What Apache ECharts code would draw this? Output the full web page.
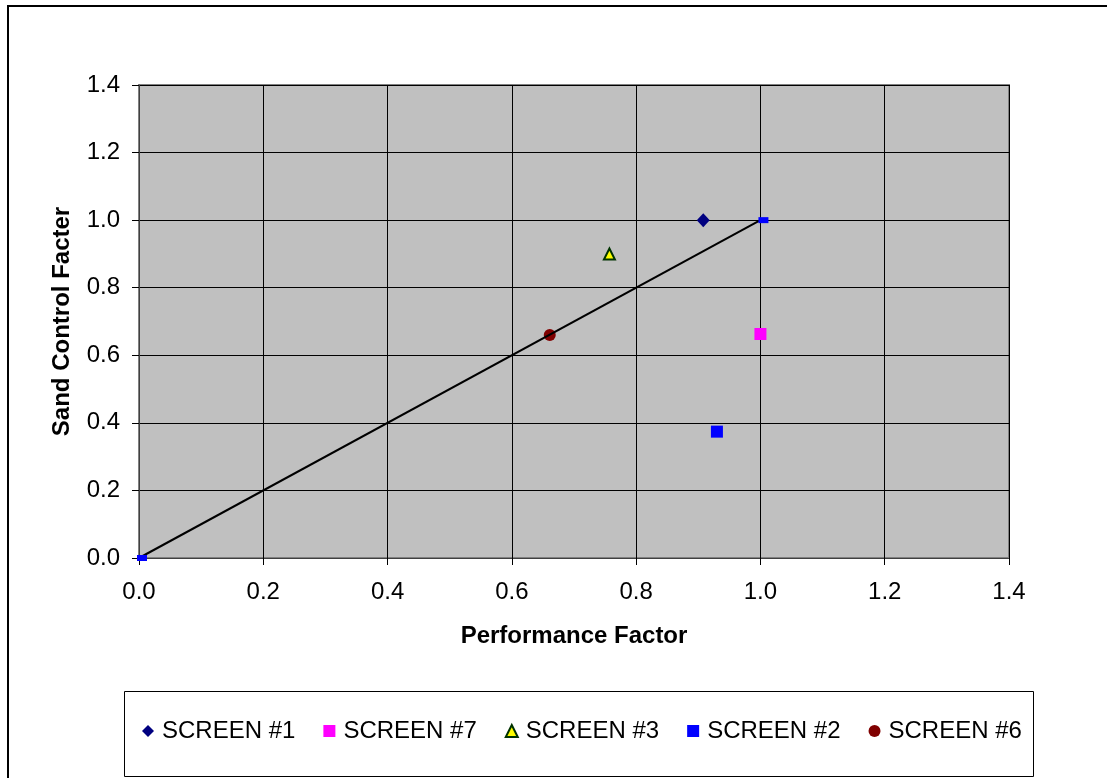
<!DOCTYPE html>
<html>
<head>
<meta charset="utf-8">
<script src="https://cdn.jsdelivr.net/npm/echarts@6/dist/echarts.min.js"></script>
<style>
  html, body { margin: 0; padding: 0; background: #ffffff; }
  #chart { width: 1107px; height: 778px; }
</style>
</head>
<body>
<div id="chart"></div>
<script>
// Screen test results: [performance factor, sand control factor]
const screen1 = [[0.908, 1.0]];
const screen7 = [[1.0, 0.663]];
const screen3 = [[0.757, 0.9]];
const screen2 = [[0.93, 0.374]];
const screen6 = [[0.661, 0.66]];
// Reference diagonal from origin to the ideal point
const diagonal = [[0, 0], [1, 1]];

const legendNames = ['SCREEN #1', 'SCREEN #7', 'SCREEN #3', 'SCREEN #2', 'SCREEN #6'];
const axisMin = 0, axisMax = 1.4, axisStep = 0.2;
const xTitle = 'Performance Factor';
const yTitle = 'Sand Control Facter';

const FONT = '"Liberation Sans", Arial, sans-serif';

const chart = echarts.init(document.getElementById('chart'), null, { renderer: 'canvas' });

const axisCommon = {
  type: 'value',
  min: axisMin,
  max: axisMax,
  interval: axisStep,
  nameLocation: 'middle',
  nameTextStyle: { fontFamily: FONT, fontSize: 24, fontWeight: 'bold', color: '#000' },
  axisLine: { show: true, onZero: false, lineStyle: { color: '#404040', width: 1 } },
  axisTick: { show: true, inside: false, length: 7, lineStyle: { color: '#000', width: 1 } },
  axisLabel: {
    fontFamily: FONT, fontSize: 24, color: '#000',
    formatter: v => v.toFixed(1)
  },
  splitLine: { show: true, lineStyle: { color: '#000', width: 1 } }
};

chart.setOption({
  animation: false,
  backgroundColor: '#ffffff',
  graphic: [
    {
      type: 'rect', z: -10, silent: true,
      shape: { x: 8, y: 6, width: 1200, height: 900 },
      style: { fill: '#ffffff', stroke: '#000000', lineWidth: 2 }
    },
    {
      type: 'rect', z: -5, silent: true,
      shape: { x: 124.5, y: 691.5, width: 909, height: 85 },
      style: { fill: '#ffffff', stroke: '#000000', lineWidth: 1 }
    }
  ],
  grid: {
    left: 139, right: 98, top: 85, bottom: 220,
    show: true,
    backgroundColor: '#C0C0C0',
    borderColor: '#808080',
    borderWidth: 2
  },
  xAxis: Object.assign({}, axisCommon, {
    name: xTitle,
    nameGap: 66,
    axisLabel: Object.assign({}, axisCommon.axisLabel, { margin: 22 })
  }),
  yAxis: Object.assign({}, axisCommon, {
    name: yTitle,
    nameGap: 65,
    nameRotate: 90,
    axisLabel: Object.assign({}, axisCommon.axisLabel, { margin: 19 })
  }),
  legend: {
    data: legendNames,
    left: 142,
    top: 719,
    orient: 'horizontal',
    itemWidth: 12,
    itemHeight: 12,
    itemGap: 28,
    padding: 0,
    textStyle: { fontFamily: FONT, fontSize: 24, color: '#000', padding: [0, 0, 0, 3] }
  },
  series: [
    {
      name: 'SCREEN #1', type: 'scatter', data: screen1,
      symbol: 'diamond', symbolSize: [13, 14],
      itemStyle: { color: '#000080', opacity: 1 }
    },
    {
      name: 'SCREEN #7', type: 'scatter', data: screen7,
      symbol: 'rect', symbolSize: 12,
      itemStyle: { color: '#FF00FF', opacity: 1 }
    },
    {
      name: 'SCREEN #3', type: 'scatter', data: screen3,
      symbol: 'triangle', symbolSize: 11,
      itemStyle: { color: '#FFFF00', borderColor: '#003300', borderWidth: 2, opacity: 1 }
    },
    {
      name: 'SCREEN #2', type: 'scatter', data: screen2,
      symbol: 'rect', symbolSize: 12,
      itemStyle: { color: '#0000FF', opacity: 1 }
    },
    {
      name: 'SCREEN #6', type: 'scatter', data: screen6,
      symbol: 'circle', symbolSize: 12,
      itemStyle: { color: '#800000', opacity: 1 }
    },
    {
      name: 'Diagonal', type: 'line', data: diagonal,
      symbol: 'rect', symbolSize: [10, 6], symbolOffset: [3, 0],
      showSymbol: true,
      clip: false,
      lineStyle: { color: '#000000', width: 2 },
      itemStyle: { color: '#0000FF', opacity: 1 },
      z: 5
    }
  ]
});
</script>
</body>
</html>
